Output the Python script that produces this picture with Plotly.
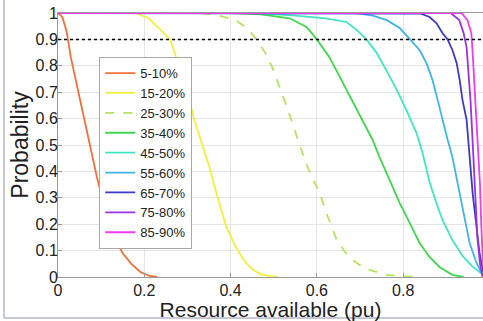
import plotly.graph_objects as go

# ---- data ----
labels = ["5-10%", "15-20%", "25-30%", "35-40%", "45-50%",
          "55-60%", "65-70%", "75-80%", "85-90%"]

x_5_10 = [0, 0.01, 0.02, 0.03, 0.05, 0.07, 0.09, 0.11, 0.13, 0.15, 0.17, 0.19, 0.21, 0.23]
y_5_10 = [1, 0.985, 0.93, 0.83, 0.68, 0.53, 0.38, 0.25, 0.15, 0.09, 0.05, 0.02, 0.005, 0]

x_15_20 = [0, 0.18, 0.21, 0.24, 0.26, 0.28, 0.30, 0.315, 0.335, 0.35, 0.37, 0.39, 0.41, 0.43, 0.45, 0.47, 0.49, 0.51]
y_15_20 = [1, 1, 0.98, 0.93, 0.9, 0.8, 0.7, 0.6, 0.5, 0.42, 0.3, 0.19, 0.12, 0.065, 0.03, 0.01, 0.003, 0]

x_25_30 = [0, 0.31, 0.36, 0.41, 0.44, 0.46, 0.48, 0.495, 0.518, 0.54, 0.56, 0.58, 0.606, 0.625,
           0.646, 0.665, 0.683, 0.70, 0.722, 0.76, 0.80, 0.84]
y_25_30 = [1, 1, 0.995, 0.975, 0.94, 0.9, 0.85, 0.8, 0.7, 0.6, 0.5, 0.41, 0.32, 0.23,
           0.14, 0.095, 0.064, 0.045, 0.027, 0.008, 0.002, 0]

x_35_40 = [0, 0.40, 0.47, 0.537, 0.576, 0.60, 0.63, 0.653, 0.683, 0.706, 0.729, 0.745, 0.769,
           0.792, 0.815, 0.838, 0.861, 0.884, 0.914, 0.94]
y_35_40 = [1, 1, 0.995, 0.98, 0.947, 0.9, 0.83, 0.758, 0.67, 0.595, 0.52, 0.455, 0.367,
           0.28, 0.205, 0.129, 0.076, 0.038, 0.008, 0]

x_45_50 = [0, 0.46, 0.55, 0.62, 0.669, 0.692, 0.715, 0.738, 0.762, 0.785, 0.808, 0.831, 0.845,
           0.861, 0.877, 0.891, 0.914, 0.9375, 0.96, 0.984]
y_45_50 = [1, 1, 0.99, 0.98, 0.966, 0.936, 0.9, 0.85, 0.78, 0.71, 0.63, 0.545, 0.47,
           0.36, 0.28, 0.216, 0.14, 0.08, 0.04, 0.01]

x_55_60 = [0, 0.69, 0.73, 0.762, 0.792, 0.815, 0.838, 0.854, 0.868, 0.88, 0.891, 0.903, 0.914,
           0.931, 0.942, 0.954, 0.97, 0.984]
y_55_60 = [1, 1, 0.99, 0.973, 0.943, 0.9, 0.86, 0.81, 0.746, 0.67, 0.595, 0.52, 0.455,
           0.318, 0.216, 0.129, 0.053, 0.008]

x_65_70 = [0, 0.785, 0.84, 0.861, 0.877, 0.891, 0.903, 0.914, 0.924, 0.931, 0.9375, 0.947,
           0.951, 0.956, 0.961, 0.97, 0.977, 0.984, 0.99]
y_65_70 = [1, 1, 0.998, 0.985, 0.962, 0.924, 0.9, 0.86, 0.81, 0.746, 0.67, 0.595,
           0.52, 0.443, 0.318, 0.19, 0.09, 0.027, 0]

x_75_80 = [0, 0.91, 0.93, 0.94, 0.947, 0.951, 0.956, 0.96, 0.963, 0.967, 0.972, 0.978, 0.984]
y_75_80 = [1, 1, 0.973, 0.924, 0.87, 0.795, 0.67, 0.545, 0.443, 0.3, 0.15, 0.05, 0]

x_85_90 = [0, 0.935, 0.949, 0.958, 0.961, 0.965, 0.97, 0.974, 0.978, 0.981, 0.984, 0.988]
y_85_90 = [1, 1, 0.973, 0.924, 0.85, 0.735, 0.606, 0.48, 0.35, 0.2, 0.08, 0]

threshold = 0.9
x_ticks = [0, 0.2, 0.4, 0.6, 0.8, 1]
x_tick_text = ["0", "0.2", "0.4", "0.6", "0.8", "1"]
y_ticks = [0, 0.1, 0.2, 0.3, 0.4, 0.5, 0.6, 0.7, 0.8, 0.9, 1]
y_tick_text = ["0", "0.1", "0.2", "0.3", "0.4", "0.5", "0.6", "0.7", "0.8", "0.9", "1"]

# ---- styling ----
series_x = [x_5_10, x_15_20, x_25_30, x_35_40, x_45_50, x_55_60, x_65_70, x_75_80, x_85_90]
series_y = [y_5_10, y_15_20, y_25_30, y_35_40, y_45_50, y_55_60, y_65_70, y_75_80, y_85_90]
colors = ["#f07238", "#f4ef3c", "#b6e45c", "#3ed84e", "#3fe6c4",
          "#3fb4e6", "#3a3cc4", "#9a34e2", "#f03cf0"]
dashes = ["solid", "solid", "dash", "solid", "solid", "solid", "solid", "solid", "solid"]

FONT = "Liberation Sans, Arial, sans-serif"

fig = go.Figure()
for lab, xs, ys, c, d in zip(labels, series_x, series_y, colors, dashes):
    fig.add_trace(go.Scatter(x=xs, y=ys, mode="lines", name=lab,
                             line=dict(color=c, width=1.8, dash=d)))

fig.add_hline(y=threshold, line=dict(color="black", width=1.5, dash="3px,3px"))

# outer frame of the original screenshot (left and bottom edges)
fig.add_shape(type="line", xref="paper", yref="paper", x0=-0.127, x1=-0.127, y0=-0.155, y1=1.06,
              line=dict(color="#b4b6c8", width=1.5))
fig.add_shape(type="line", xref="paper", yref="paper", x0=-0.127, x1=1.0, y0=-0.155, y1=-0.155,
              line=dict(color="#b4b6c8", width=1.5))

fig.update_layout(
    width=483, height=321,
    margin=dict(l=58, r=0, t=13, b=44),
    paper_bgcolor="white", plot_bgcolor="white",
    font=dict(family=FONT, color="#222222"),
    legend=dict(x=0.097, y=0.833, xanchor="left", yanchor="top",
                bgcolor="white", bordercolor="#a8a8a8", borderwidth=1,
                font=dict(size=13, color="#222222"), itemwidth=30,
                tracegroupgap=0),
    showlegend=True,
)
fig.update_xaxes(range=[0, 0.985], tickvals=x_ticks, ticktext=x_tick_text,
                 showgrid=True, gridcolor="#e4e4e4", gridwidth=1,
                 showline=True, linecolor="#9a9a9a", linewidth=1, mirror=True,
                 ticks="inside", ticklen=4, tickcolor="#9a9a9a",
                 tickfont=dict(size=16), zeroline=False, automargin=False,
                 ticklabelstandoff=-1,
                 title=dict(text="Resource available (pu)", font=dict(size=21), standoff=0))
fig.update_yaxes(range=[0, 1], tickvals=y_ticks, ticktext=y_tick_text,
                 showgrid=True, gridcolor="#e4e4e4", gridwidth=1,
                 showline=True, linecolor="#9a9a9a", linewidth=1, mirror=True,
                 ticks="inside", ticklen=4, tickcolor="#9a9a9a",
                 tickfont=dict(size=16), zeroline=False, automargin=False,
                 ticklabelstandoff=-4,
                 title=dict(text="Probability", font=dict(size=23), standoff=0))

fig.write_html("out.html", config={"displayModeBar": False},
               post_script="document.body.style.margin='0';")
